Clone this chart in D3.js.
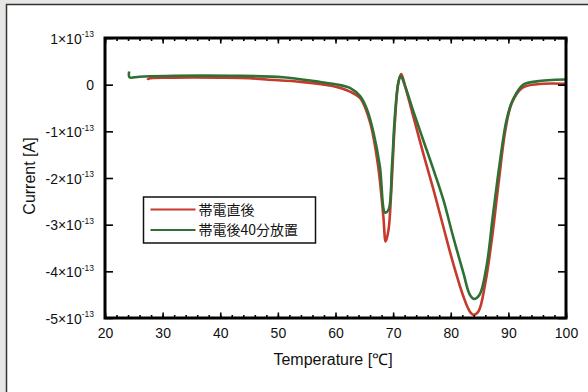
<!DOCTYPE html>
<html>
<head>
<meta charset="utf-8">
<script src="https://cdn.jsdelivr.net/npm/d3@7"></script>
<style>
  body { margin: 0; background: #e6e6e4; }
  svg { display: block; font-family: "Liberation Sans", Arial, Helvetica, sans-serif; }
</style>
</head>
<body>
<div id="chart"></div>
<script>
// 温度 [℃] と電流 [x1e-13 A]
const seriesNames = ["帯電直後", "帯電後40分放置"];
const seriesColors = ["#c63a2d", "#2f7035"];

const redT = [27.4, 27.6, 32, 40, 45, 48, 54, 59.5, 62.5, 64.3, 66.0, 67.4, 68.3, 68.7, 69.2, 69.75, 70.3, 70.9, 71.4, 72.1, 73.5, 75.2, 77.0, 78.7, 80.4, 82.2, 83.3, 83.9, 84.8, 86.0, 87.2, 88.3, 89.5, 90.6, 92.4, 94.9, 99.9];
const redI = [0.10, 0.13, 0.15, 0.15, 0.14, 0.11, 0.06, -0.03, -0.15, -0.29, -0.81, -1.75, -2.82, -3.36, -3.11, -2.10, -0.81, 0.04, 0.23, -0.04, -0.68, -1.46, -2.25, -3.04, -3.82, -4.54, -4.86, -4.93, -4.86, -4.25, -3.25, -2.11, -0.96, -0.39, -0.07, 0.01, 0.02];

const greenT = [24.2, 24.25, 26, 32, 42, 50.9, 56.7, 60.8, 62.5, 64.3, 65.5, 66.6, 67.7, 68.6, 69.2, 69.8, 70.3, 70.9, 71.3, 72.1, 73.5, 75.2, 77.0, 78.7, 80.4, 82.2, 83.3, 84.0, 85.0, 86.2, 87.3, 88.5, 89.7, 90.8, 92.6, 94.9, 99.9];
const greenI = [0.28, 0.16, 0.17, 0.19, 0.19, 0.16, 0.07, -0.01, -0.07, -0.25, -0.54, -1.03, -1.75, -2.74, -2.68, -1.75, -0.68, 0.04, 0.19, -0.04, -0.57, -1.18, -1.82, -2.46, -3.25, -4.04, -4.50, -4.59, -4.50, -3.90, -2.82, -1.68, -0.75, -0.32, 0.00, 0.07, 0.11];

const xTicks = [20, 30, 40, 50, 60, 70, 80, 90, 100];
const yTicks = [1, 0, -1, -2, -3, -4, -5];

const W = 588, H = 392;
const margin = { left: 105, right: 566, top: 38, bottom: 318 };

const svg = d3.select("#chart").append("svg")
    .attr("width", W)
    .attr("height", H);

// 枠
svg.append("rect")
    .attr("x", 6.5).attr("y", 4.5)
    .attr("width", W).attr("height", H)
    .attr("fill", "#fff")
    .attr("stroke", "#333")
    .attr("stroke-width", 1.5);

const x = d3.scaleLinear().domain([20, 100]).range([margin.left, margin.right]);
const y = d3.scaleLinear().domain([-5, 1]).range([margin.bottom, margin.top]);

const minorX = d3.range(20, 101, 2);

// 曲線
const line = d3.line()
    .x(d => x(d[0]))
    .y(d => y(d[1]))
    .curve(d3.curveCatmullRom.alpha(0.5));

const series = [
    redT.map((t, i) => [t, redI[i]]),
    greenT.map((t, i) => [t, greenI[i]])
];

series.forEach((s, i) => {
    svg.append("path")
        .datum(s)
        .attr("fill", "none")
        .attr("stroke", seriesColors[i])
        .attr("stroke-width", 2.6)
        .attr("stroke-linejoin", "round")
        .attr("d", line);
});

// 軸
function styleAxis(g) {
    g.select(".domain").remove();
    g.selectAll(".tick line").attr("stroke", "#000").attr("stroke-width", 1.6);
    g.selectAll(".tick text").attr("fill", "#111").attr("font-size", 14);
}

// 下
svg.append("g")
    .attr("transform", `translate(0,${margin.bottom})`)
    .call(d3.axisBottom(x).tickValues(minorX).tickSize(-3).tickFormat(""))
    .call(styleAxis);
svg.append("g")
    .attr("transform", `translate(0,${margin.bottom})`)
    .call(d3.axisBottom(x).tickValues(xTicks).tickSize(-5.5).tickPadding(10))
    .call(styleAxis);

// 上
svg.append("g")
    .attr("transform", `translate(0,${margin.top})`)
    .call(d3.axisTop(x).tickValues(minorX).tickSize(-3).tickFormat(""))
    .call(styleAxis);
svg.append("g")
    .attr("transform", `translate(0,${margin.top})`)
    .call(d3.axisTop(x).tickValues(xTicks).tickSize(-5.5).tickFormat(""))
    .call(styleAxis);

// 左
const yAxis = svg.append("g")
    .attr("transform", `translate(${margin.left},0)`)
    .call(d3.axisLeft(y).tickValues(yTicks).tickSize(-8).tickPadding(11))
    .call(styleAxis);

yAxis.selectAll(".tick text").each(function(d) {
    const t = d3.select(this);
    t.text(null).attr("dy", "0.38em");
    if (d === 0) {
        t.text("0");
    } else {
        t.append("tspan").text(`${d}×10`);
        t.append("tspan").attr("dy", -6.5).attr("font-size", 8.5).text("-13");
    }
});

// 右
svg.append("g")
    .attr("transform", `translate(${margin.right},0)`)
    .call(d3.axisRight(y).tickValues(yTicks).tickSize(-8).tickFormat(""))
    .call(styleAxis);

// 外枠
svg.append("rect")
    .attr("x", margin.left).attr("y", margin.top)
    .attr("width", margin.right - margin.left).attr("height", margin.bottom - margin.top)
    .attr("fill", "none")
    .attr("stroke", "#000")
    .attr("stroke-width", 3);

// 軸ラベル
svg.append("text")
    .attr("x", 333)
    .attr("y", 365)
    .attr("text-anchor", "middle")
    .attr("font-size", 16)
    .attr("fill", "#111")
    .text("Temperature [℃]");

svg.append("text")
    .attr("transform", `translate(35,${(margin.top + margin.bottom) / 2 - 2}) rotate(-90)`)
    .attr("text-anchor", "middle")
    .attr("font-size", 16)
    .attr("fill", "#111")
    .text("Current [A]");

// 凡例
const legend = svg.append("g")
    .attr("transform", "translate(143.5,197)");

legend.append("rect")
    .attr("width", 172)
    .attr("height", 46)
    .attr("fill", "#fff")
    .attr("stroke", "#111")
    .attr("stroke-width", 1.5);

seriesNames.forEach((name, i) => {
    const ly = 12.5 + i * 20.5;
    legend.append("line")
        .attr("x1", 7).attr("x2", 52)
        .attr("y1", ly).attr("y2", ly)
        .attr("stroke", seriesColors[i])
        .attr("stroke-width", 2);
    legend.append("text")
        .attr("x", 55)
        .attr("y", ly)
        .attr("dy", "0.36em")
        .attr("font-size", 14)
        .attr("font-family", "'Noto Sans CJK JP', sans-serif")
        .attr("fill", "#111")
        .text(name);
});
</script>
</body>
</html>
